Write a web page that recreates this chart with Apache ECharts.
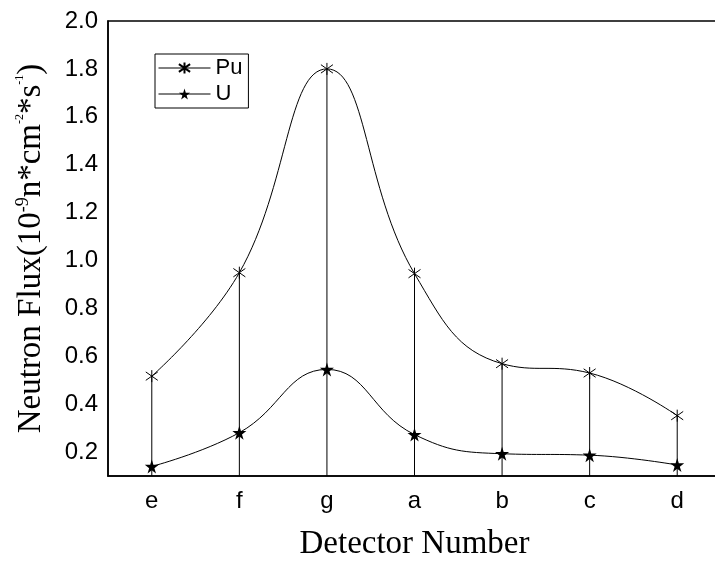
<!DOCTYPE html>
<html>
<head>
<meta charset="utf-8">
<script src="https://cdn.jsdelivr.net/npm/echarts@6/dist/echarts.min.js"></script>
<style>
  html, body { margin: 0; padding: 0; background: #fff; }
  #main { width: 715px; height: 563px; }
</style>
</head>
<body>
<div id="main"></div>
<script>
// detector positions along the x axis
var detectors = ["e", "f", "g", "a", "b", "c", "d"];
// neutron flux values
var puFlux = [0.517, 0.949, 1.80, 0.945, 0.569, 0.530, 0.352];
var uFlux = [0.140, 0.281, 0.545, 0.273, 0.193, 0.187, 0.146];
// y tick labels
var yTicks = [0.2, 0.4, 0.6, 0.8, 1.0, 1.2, 1.4, 1.6, 1.8, 2.0];
var yMinorTicks = [0.1, 0.3, 0.5, 0.7, 0.9, 1.1, 1.3, 1.5, 1.7, 1.9];

var asterisk = "path://M5,0L5,10M1.5,1.5L8.5,8.5M8.5,1.5L1.5,8.5";
var star = "path://M50,0L61,35L98,35L68,57L79,91L50,70L21,91L32,57L2,35L39,35Z";

var chart = echarts.init(document.getElementById("main"));

chart.setOption({
  backgroundColor: "#ffffff",
  animation: false,
  grid: {
    left: 108,
    top: 21,
    right: -6,
    bottom: 87,
    outerBoundsMode: "none",
    containLabel: false,
    show: true,
    borderColor: "#000",
    borderWidth: 1.5,
    backgroundColor: "transparent"
  },
  legend: {
    left: 155,
    top: 54,
    orient: "vertical",
    padding: [3, 6, 3, 3],
    itemGap: 4,
    itemWidth: 52,
    itemHeight: 14,
    borderColor: "#000",
    borderWidth: 1,
    lineStyle: { width: 1 },
    textStyle: { fontFamily: "Liberation Sans", fontSize: 22, color: "#000" },
    data: ["Pu", "U"]
  },
  xAxis: [
    {
      type: "category",
      data: detectors,
      boundaryGap: true,
      axisLine: { lineStyle: { color: "#000", width: 1.5 } },
      axisTick: { inside: true, alignWithLabel: true, length: 8, lineStyle: { color: "#000", width: 1.5 } },
      axisLabel: { fontFamily: "Liberation Sans", fontSize: 24, color: "#000", margin: 13 },
      name: "Detector Number",
      nameLocation: "middle",
      nameGap: 52,
      nameTextStyle: { fontFamily: "Liberation Serif", fontSize: 33, color: "#000" }
    },
    {
      type: "category",
      data: detectors,
      boundaryGap: true,
      position: "bottom",
      axisLine: { show: false },
      axisTick: { inside: true, length: 5, lineStyle: { color: "#000", width: 1.5 } },
      axisLabel: { show: false }
    }
  ],
  yAxis: [
    {
      type: "value",
      min: 0.1,
      max: 2.0,
      splitLine: { show: false },
      axisLine: { show: true, lineStyle: { color: "#000", width: 1.5 } },
      axisTick: { inside: true, length: 8, customValues: yTicks, lineStyle: { color: "#000", width: 1.5 } },
      axisLabel: {
        customValues: yTicks,
        fontFamily: "Liberation Sans",
        fontSize: 24,
        color: "#000",
        margin: 10,
        formatter: function (v) { return v.toFixed(1); }
      },
      name: "Neutron Flux(10{sup|-9}n*cm{sm|-2}*s{sm|-1})",
      nameLocation: "middle",
      nameRotate: 90,
      nameGap: 60,
      nameTextStyle: {
        fontFamily: "Liberation Serif",
        fontSize: 33,
        color: "#000",
        rich: {
          sup: { fontFamily: "Liberation Serif", fontSize: 18, color: "#000", verticalAlign: "top", lineHeight: 34 },
          sm: { fontFamily: "Liberation Serif", fontSize: 12, color: "#000", verticalAlign: "top", lineHeight: 34 }
        }
      }
    },
    {
      type: "value",
      min: 0.1,
      max: 2.0,
      position: "left",
      splitLine: { show: false },
      axisLine: { show: false },
      axisTick: { inside: true, length: 5, customValues: yMinorTicks, lineStyle: { color: "#000", width: 1.5 } },
      axisLabel: { show: false }
    }
  ],
  series: [
    {
      name: "drop",
      type: "bar",
      silent: true,
      barWidth: 1,
      itemStyle: { color: "#000" },
      data: puFlux,
      z: 1
    },
    {
      name: "Pu",
      type: "line",
      smooth: 0.45,
      symbol: asterisk,
      symbolSize: 12,
      lineStyle: { color: "#000", width: 1 },
      itemStyle: { color: "#000", borderColor: "#000", borderWidth: 1 },
      data: puFlux,
      z: 3
    },
    {
      name: "U",
      type: "line",
      smooth: 0.45,
      symbol: star,
      symbolSize: 14,
      lineStyle: { color: "#000", width: 1 },
      itemStyle: { color: "#000", borderColor: "#000", borderWidth: 0 },
      data: uFlux,
      z: 3
    }
  ]
});
</script>
</body>
</html>
